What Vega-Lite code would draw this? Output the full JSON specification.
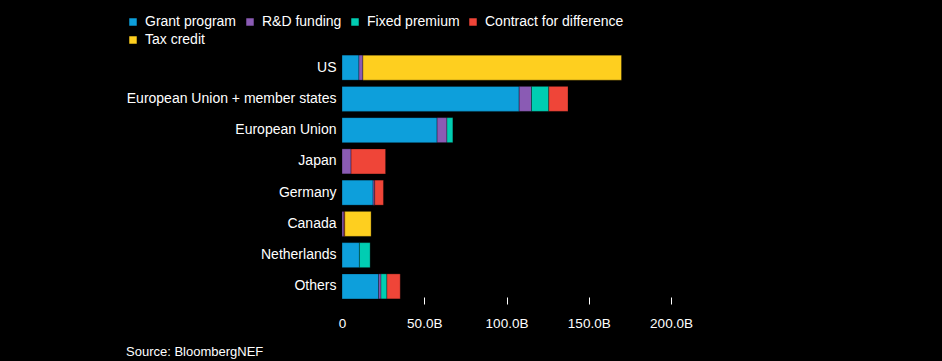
{
  "$schema": "https://vega.github.io/schema/vega-lite/v6.json",
  "autosize": "none",
  "width": 329,
  "height": 250,
  "padding": {"left": 342, "top": 52, "right": 271, "bottom": 59},
  "background": "#000000",
  "config": {
    "view": {"stroke": null},
    "font": "Liberation Sans",
    "axis": {"grid": false, "domain": false}
  },
  "title": {
    "text": "Source: BloombergNEF",
    "orient": "bottom",
    "anchor": "start",
    "frame": "bounds",
    "offset": 16,
    "fontSize": 13,
    "fontWeight": "normal",
    "color": "#ffffff",
    "font": "Liberation Sans"
  },
  "data": {
    "values": [
      {"country": "US", "type": "Grant program", "value": 10.3},
      {"country": "US", "type": "R&D funding", "value": 2.4},
      {"country": "US", "type": "Tax credit", "value": 157.2},
      {"country": "European Union + member states", "type": "Grant program", "value": 107.7},
      {"country": "European Union + member states", "type": "R&D funding", "value": 7.5},
      {"country": "European Union + member states", "type": "Fixed premium", "value": 10.5},
      {"country": "European Union + member states", "type": "Contract for difference", "value": 11.7},
      {"country": "European Union", "type": "Grant program", "value": 57.8},
      {"country": "European Union", "type": "R&D funding", "value": 6.0},
      {"country": "European Union", "type": "Fixed premium", "value": 3.6},
      {"country": "Japan", "type": "R&D funding", "value": 5.5},
      {"country": "Japan", "type": "Contract for difference", "value": 21.0},
      {"country": "Germany", "type": "Grant program", "value": 18.9},
      {"country": "Germany", "type": "R&D funding", "value": 1.0},
      {"country": "Germany", "type": "Contract for difference", "value": 5.3},
      {"country": "Canada", "type": "R&D funding", "value": 1.2},
      {"country": "Canada", "type": "Contract for difference", "value": 0.5},
      {"country": "Canada", "type": "Tax credit", "value": 16.0},
      {"country": "Netherlands", "type": "Grant program", "value": 10.6},
      {"country": "Netherlands", "type": "Fixed premium", "value": 6.5},
      {"country": "Others", "type": "Grant program", "value": 22.3},
      {"country": "Others", "type": "R&D funding", "value": 1.4},
      {"country": "Others", "type": "Fixed premium", "value": 3.6},
      {"country": "Others", "type": "Contract for difference", "value": 8.1}
    ]
  },
  "transform": [
    {"calculate": "indexof(['Grant program', 'R&D funding', 'Fixed premium', 'Contract for difference', 'Tax credit'], datum.type)", "as": "stackOrder"}
  ],
  "mark": {"type": "bar", "stroke": "#000000", "strokeWidth": 1, "strokeOpacity": 0.3},
  "encoding": {
    "y": {
      "field": "country",
      "type": "nominal",
      "sort": ["US", "European Union + member states", "European Union", "Japan", "Germany", "Canada", "Netherlands", "Others"],
      "scale": {"paddingInner": 0.2, "paddingOuter": 0.1},
      "axis": {
        "title": null,
        "ticks": false,
        "labelPadding": 6,
        "labelFontSize": 14,
        "labelColor": "#ffffff",
        "labelFont": "Liberation Sans",
        "labelLimit": 400
      }
    },
    "x": {
      "field": "value",
      "type": "quantitative",
      "stack": "zero",
      "scale": {"domain": [0, 200], "nice": false},
      "axis": {
        "title": null,
        "values": [0, 50, 100, 150, 200],
        "offset": -5,
        "tickSize": 7,
        "tickColor": {"condition": {"test": "datum.value === 0", "value": "transparent"}, "value": "#ffffff"},
        "labelFlush": false,
        "labelPadding": 12,
        "labelFontSize": 13.5,
        "labelColor": "#ffffff",
        "labelFont": "Liberation Sans",
        "labelExpr": "datum.value === 0 ? '0' : format(datum.value, '.1f') + 'B'"
      }
    },
    "order": {"field": "stackOrder", "type": "quantitative", "sort": "ascending"},
    "color": {
      "field": "type",
      "type": "nominal",
      "sort": ["Grant program", "R&D funding", "Fixed premium", "Contract for difference", "Tax credit"],
      "scale": {
        "domain": ["Grant program", "R&D funding", "Fixed premium", "Contract for difference", "Tax credit"],
        "range": ["#0d9fdb", "#8a5bb4", "#00cdb2", "#ef4538", "#fecf1f"]
      },
      "legend": {
        "title": null,
        "orient": "none",
        "legendX": -216,
        "legendY": -37,
        "direction": "horizontal",
        "columns": 4,
        "symbolType": "square",
        "symbolSize": 56,
        "symbolStrokeWidth": 0,
        "symbolOpacity": 1,
        "labelFontSize": 14,
        "labelColor": "#ffffff",
        "labelFont": "Liberation Sans",
        "labelOffset": 5,
        "columnPadding": 6,
        "rowPadding": 4,
        "labelLimit": 300
      }
    }
  }
}
